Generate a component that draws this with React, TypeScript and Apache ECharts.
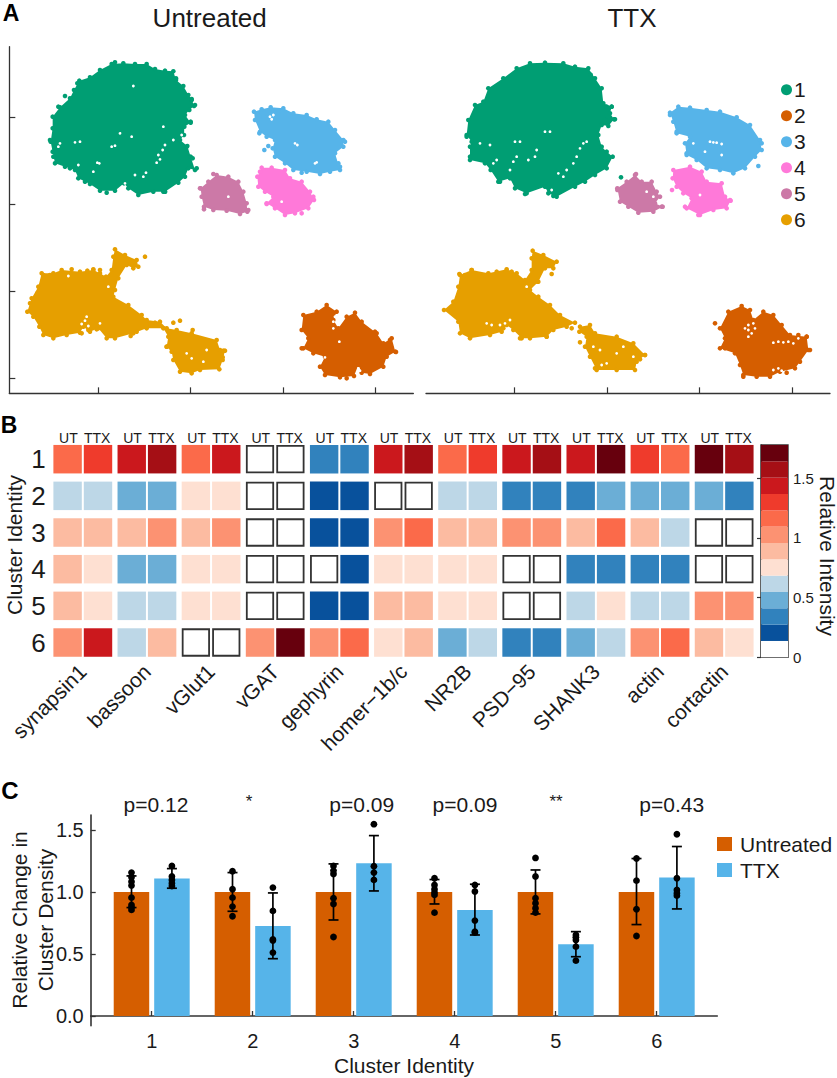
import React, { useEffect, useRef } from "react";
import * as echarts from "echarts";

// ---------- Panel A: embedding clusters (arbitrary, unlabelled embedding units) ----------
const clusterNames = ["1", "2", "3", "4", "5", "6"];
const clusterColors = ["#009e73", "#d55e00", "#56b4e9", "#ff79d9", "#cc79a7", "#e69f00"];
const ticksUntreatedX = [295, 571, 849, 1127];
const ticksTtxX = [284, 561, 838, 1116];
const ticksEmbedY = [351, 613, 873, 1134];

const u1 = [[370,190],[405,192],[440,192],[465,207],[495,212],[520,214],[528,240],[550,258],[565,285],[575,297],[582,318],[568,330],[555,345],[572,368],[553,380],[552,405],[540,420],[562,438],[572,470],[585,510],[565,505],[555,530],[535,548],[495,575],[460,575],[415,585],[385,565],[372,550],[345,572],[300,572],[270,552],[235,535],[225,510],[195,500],[165,490],[158,455],[152,425],[158,385],[158,350],[180,322],[210,295],[222,270],[238,242],[270,232],[300,210],[335,192]];
const u2 = [[980,915],[1010,935],[1000,960],[1015,985],[1040,950],[1065,938],[1085,965],[1130,1000],[1150,1030],[1175,1015],[1186,1055],[1160,1070],[1150,1100],[1110,1122],[1085,1118],[1075,1095],[1062,1128],[1020,1132],[975,1125],[960,1100],[975,1070],[940,1060],[910,1045],[925,1015],[905,990],[910,945],[950,935]];
const u3 = [[762,335],[785,328],[812,322],[850,325],[880,340],[920,345],[950,358],[985,365],[1005,390],[1030,420],[1030,440],[1005,460],[1020,510],[990,515],[960,522],[920,515],[880,510],[855,490],[825,470],[818,445],[825,420],[800,410],[780,395],[765,360]];
const u4 = [[785,503],[815,503],[855,510],[870,535],[905,545],[930,575],[942,600],[925,625],[885,640],[855,645],[825,625],[800,610],[820,590],[795,575],[775,560],[772,530]];
const u5 = [[650,525],[685,530],[715,545],[730,575],[740,610],[742,635],[720,642],[680,632],[640,630],[612,620],[605,590],[602,565],[625,545]];
const u6 = [[345,748],[375,765],[410,780],[415,800],[400,805],[380,795],[355,835],[345,870],[340,890],[385,915],[425,945],[440,960],[480,965],[500,985],[530,990],[575,1000],[650,1020],[660,1050],[675,1052],[668,1080],[658,1108],[600,1110],[575,1120],[540,1115],[520,1080],[515,1055],[500,1040],[505,1010],[490,985],[440,985],[400,1000],[345,1015],[320,1015],[295,985],[270,995],[250,980],[240,998],[200,1005],[160,1015],[130,1005],[118,980],[100,950],[82,935],[95,895],[115,860],[125,820],[160,820],[185,810],[240,815],[280,810],[300,820],[318,830],[335,810],[340,770]];
const t1 = [[375,188],[430,190],[465,200],[505,205],[525,235],[545,265],[550,310],[575,320],[570,340],[582,358],[565,378],[545,375],[535,405],[545,440],[560,455],[578,470],[560,505],[525,525],[495,545],[465,560],[410,590],[385,580],[375,560],[320,580],[285,565],[270,535],[235,545],[212,510],[195,490],[150,480],[150,440],[155,425],[140,405],[145,360],[165,315],[190,305],[205,265],[250,235],[290,205],[330,190]];
const t2 = [[965,918],[990,930],[1000,960],[1030,935],[1060,945],[1085,975],[1110,1005],[1160,1010],[1165,1050],[1140,1085],[1125,1105],[1080,1115],[1050,1130],[1010,1130],[970,1125],[960,1095],[945,1060],[900,1045],[915,1015],[900,985],[925,935]];
const t3 = [[750,338],[775,320],[810,323],[860,330],[900,335],[950,352],[990,375],[1020,420],[1025,450],[1005,470],[975,505],[940,520],[900,510],[860,505],[830,480],[800,465],[795,430],[810,410],[770,400],[760,365]];
const t4 = [[760,510],[810,500],[845,515],[860,545],[905,550],[915,590],[932,602],[920,625],[880,630],[840,645],[800,625],[815,595],[790,580],[770,560],[758,535]];
const t5 = [[645,525],[665,545],[695,545],[710,575],[720,590],[705,610],[728,620],[700,635],[655,638],[625,620],[600,605],[592,565],[620,545]];
const t6 = [[338,752],[370,765],[410,785],[400,805],[375,805],[355,845],[330,870],[355,890],[390,915],[420,945],[465,968],[440,980],[400,990],[380,1010],[330,1015],[305,1015],[280,990],[260,975],[245,995],[210,1005],[150,1015],[120,1000],[115,965],[72,930],[100,905],[115,860],[120,825],[155,810],[205,820],[260,808],[290,820],[315,840],[335,810],[335,775]];
const t6b = [[480,980],[510,975],[525,1000],[590,1010],[640,1030],[675,1065],[650,1085],[645,1110],[590,1110],[530,1110],[510,1070],[495,1040],[500,1010],[478,995]];

const untreatedOutlines = [[u1], [u2], [u3], [u4], [u5], [u6]];
const ttxOutlines = [[t1], [t2], [t3], [t4], [t5], [t6, t6b]];
const untreatedStrays = [
  [[528,235],[575,300],[560,440],[590,505],[578,475],[495,575],[320,578],[210,505],[195,288],[175,320],[150,420],[232,250],[345,187],[572,365],[585,315],[255,545],[490,575],[160,470]],
  [[1170,1020],[1188,1056],[1165,1050],[1040,1135],[925,950],[905,1045],[1125,995]],
  [[793,450],[805,438],[778,400],[790,350],[772,345],[1020,500],[905,518],[1035,425],[1015,490],[835,335]],
  [[780,515],[940,590],[905,640],[825,620],[800,612]],
  [[600,565],[640,522],[612,628],[745,630]],
  [[435,770],[540,962],[520,968],[668,1072],[150,825],[130,825],[215,808],[262,812],[280,808],[112,880],[90,910],[300,810],[265,990],[290,988],[245,1000],[410,995],[440,975],[465,968],[578,990],[670,1052],[500,1040],[392,1008]],
];
const ttxStrays = [
  [[603,532],[512,224],[575,320],[560,320],[585,358],[150,470],[140,410],[240,545],[315,582],[400,588],[555,360]],
  [[885,970],[1135,1005],[1160,1010],[1170,1050],[1100,1118],[970,1130],[915,1045]],
  [[1015,498],[750,345],[770,395],[800,460],[1025,430]],
  [[756,570],[930,600],[795,620],[835,645]],
  [[648,522],[725,620],[592,570]],
  [[480,1027],[395,822],[352,845],[155,810],[118,822],[135,825],[185,830],[230,815],[275,815],[300,1015],[380,1010],[250,985],[455,985],[420,960],[675,1065],[660,1078],[525,1105]],
];
const untreatedGaps = [[292,488],[298,490],[345,437],[335,440],[225,427],[240,425],[180,430],[175,440],[475,465],[488,450],[470,488],[480,478],[495,435],[430,530],[438,518],[405,525],[280,515],[545,405],[400,258],[395,410],[360,400],[490,380],[520,420],[235,495],[375,550],[810,350],[820,345],[815,358],[885,430],[892,435],[950,487],[945,490],[1000,965],[1000,985],[1005,950],[1018,1025],[1075,1105],[1080,1112],[975,1072],[260,950],[255,962],[265,978],[245,972],[300,970],[205,828],[325,860],[620,1050],[560,1060],[575,1075],[610,1085],[845,605],[685,590]];
const ttxGaps = [[280,485],[290,470],[270,510],[300,425],[285,425],[460,490],[470,470],[480,445],[490,430],[500,425],[350,450],[345,470],[325,480],[210,435],[180,430],[430,530],[415,520],[440,510],[395,570],[375,395],[390,395],[230,480],[220,490],[820,430],[880,427],[870,425],[890,428],[905,432],[855,455],[905,465],[975,985],[985,990],[995,1000],[1005,985],[985,975],[1000,970],[985,1010],[1060,1028],[1075,1025],[1090,1027],[1105,1025],[1120,1030],[1135,1015],[1075,1105],[1085,1112],[1060,1110],[270,960],[255,970],[240,975],[215,975],[200,970],[320,860],[540,1050],[520,1040],[590,1060],[560,1090],[610,1040],[640,1070],[545,1095],[680,575],[700,590],[840,585]];

// ---------- Panel B: heat map ----------
const markers = ["synapsin1", "bassoon", "vGlut1", "vGAT", "gephyrin", "homer\u22121b/c", "NR2B", "PSD\u221295", "SHANK3", "actin", "cortactin"];
const treatments = ["UT", "TTX"];
const intensityUT = [
  [1.15,.6,.9,.9,.9,1.0],[1.45,.5,.9,.5,.6,.6],[1.15,.75,.9,.75,.75,0],[0,0,0,0,0,1.0],[.35,.2,.2,0,.2,1.0],
  [1.45,0,1.0,.75,.9,.75],[1.15,.6,.9,.75,.75,.5],[1.45,.35,1.0,0,0,.35],[1.45,.35,.9,.35,.6,.5],[1.3,.5,.9,.35,.6,1.0],[1.7,.5,0,0,1.0,.9],
];
const intensityTTX = [
  [1.3,.6,.9,.75,.75,1.45],[1.6,.5,1.0,.5,.6,.9],[1.45,.75,1.0,.75,.75,0],[0,0,0,0,0,1.7],[.35,.2,.2,.2,.2,1.15],
  [1.6,0,1.15,.75,.9,.9],[1.3,.6,.9,.75,.75,.6],[1.6,.35,1.0,0,0,.35],[1.7,.5,1.15,.35,.75,.6],[1.15,.5,.6,.35,.6,1.15],[1.6,.35,0,0,1.0,.75],
];
const binPalette = ["#ffffff","#08519c","#3182bd","#6baed6","#bdd7e7","#fee0d2","#fcbba1","#fc9272","#fb6a4a","#ef3b2c","#cb181d","#a50f15","#67000d"];
const colorbarMax = 1.778;
const colorbarTicks = [0, 0.5, 1, 1.5];

// ---------- Panel C: bars ----------
const barClusters = [1, 2, 3, 4, 5, 6];
const barUntreated = [1, 1, 1, 1, 1, 1];
const barTTX = [1.108, 0.726, 1.231, 0.855, 0.578, 1.116];
const errUntreated = [[0.874,1.129],[0.844,1.156],[0.774,1.226],[0.903,1.10],[0.823,1.177],[0.737,1.269]];
const errTTX = [[1.03,1.188],[0.462,0.992],[1.008,1.454],[0.653,1.062],[0.478,0.68],[0.863,1.366]];
const dotsUntreated = [
  [1.156,1.118,1.083,1.051,0.954,0.895,0.876,0.855],[1.167,1.022,0.954,0.882,0.804],[1.21,1.172,1.145,0.949,0.903,0.637],
  [1.11,1.056,1.022,0.995,0.976,0.833],[1.274,1.124,0.949,0.909,0.868,0.833],[1.269,1.091,0.86,0.645],
];
const dotsTTX = [
  [1.21,1.124,1.097,1.07,1.048],[1.035,0.847,0.618,0.608,0.511],[1.546,1.207,1.156,1.097],
  [1.056,1.003,0.769,0.68,0.672],[0.653,0.634,0.613,0.559,0.446],[1.465,1.11,1.016,0.989,0.97],
];
const pLabels = ["p=0.12", "*", "p=0.09", "p=0.09", "**", "p=0.43"];
const barTicksY = [0, 0.5, 1, 1.5];

const FONT = "'Liberation Sans', Arial, sans-serif";
const INK = "#1a1a1a";
const AXIS = "#333333";
const UT_COLOR = "#d55e00";
const TTX_COLOR = "#56b4e9";

function embedSeries(outlines: number[][][][], strays: number[][][], gaps: number[][], axisIdx: number) {
  const out: any[] = [];
  outlines.forEach((polys, c) => {
    polys.forEach((poly) => {
      out.push({
        type: "custom", coordinateSystem: "cartesian2d", xAxisIndex: axisIdx, yAxisIndex: axisIdx,
        silent: true, data: poly, encode: { x: 0, y: 1 }, z: 2,
        renderItem: (p: any, api: any) =>
          p.dataIndex === 0
            ? { type: "polygon", shape: { points: poly.map((q) => api.coord(q)) }, style: { fill: clusterColors[c] } }
            : null,
      });
    });
    out.push({
      type: "scatter", name: clusterNames[c], xAxisIndex: axisIdx, yAxisIndex: axisIdx, z: 3,
      symbolSize: 4.6, itemStyle: { color: clusterColors[c], opacity: 1 },
      data: [...polys.flat(), ...strays[c]],
    });
  });
  out.push({
    type: "scatter", xAxisIndex: axisIdx, yAxisIndex: axisIdx, z: 4, silent: true,
    symbolSize: 2.8, itemStyle: { color: "#ffffff", opacity: 1 }, data: gaps,
  });
  return out;
}

function heatCell(p: any, api: any) {
  const g = api.value(0), r = api.value(1), t = api.value(2), v = api.value(3);
  const c = api.coord([g, r]);
  const band = api.size([1, 1]);
  const w = band[0] * 0.443, h = band[1] * 0.777;
  const cx = c[0] + (t === 0 ? -0.237 : 0.237) * band[0];
  if (v === 0) {
    return {
      type: "rect",
      shape: { x: cx - w / 2 + 1, y: c[1] - h / 2 + 1, width: w - 2, height: h - 2 },
      style: { fill: "#fff", stroke: AXIS, lineWidth: 1.8 },
    };
  }
  const level = Math.min(12, Math.floor(v / (colorbarMax / 13)));
  return { type: "rect", shape: { x: cx - w / 2, y: c[1] - h / 2, width: w, height: h }, style: { fill: binPalette[level] } };
}

function errorBar(offset: number) {
  return (p: any, api: any) => {
    const x = api.value(0) + offset;
    const lo = api.coord([x, api.value(1)]);
    const hi = api.coord([x, api.value(2)]);
    const line = { stroke: "#000", lineWidth: 1.7 };
    const cap = 5;
    return {
      type: "group",
      children: [
        { type: "line", shape: { x1: lo[0], y1: lo[1], x2: hi[0], y2: hi[1] }, style: line },
        { type: "line", shape: { x1: lo[0] - cap, y1: lo[1], x2: lo[0] + cap, y2: lo[1] }, style: line },
        { type: "line", shape: { x1: hi[0] - cap, y1: hi[1], x2: hi[0] + cap, y2: hi[1] }, style: line },
      ],
    };
  };
}

const txt = (text: string, x: number, y: number, fontSize: number, extra: any = {}, rotation = 0) => ({
  type: "text", x, y, rotation, silent: true,
  style: { text, fontSize, fontFamily: FONT, fill: INK, align: "center", verticalAlign: "middle", ...extra },
});

export default function App() {
  const ref = useRef<HTMLDivElement>(null);
  useEffect(() => {
    const chart = echarts.init(ref.current!, undefined, { renderer: "svg" });
    const embedAxisLine = { show: true, lineStyle: { color: AXIS, width: 1.3 } };
    const embedTick = (vals: number[]) => ({ show: true, inside: true, length: 6, customValues: vals, lineStyle: { color: AXIS, width: 1.2 } });
    const heatData: number[][] = [];
    markers.forEach((_, g) => {
      intensityUT[g].forEach((v, r) => heatData.push([g, r, 0, v]));
      intensityTTX[g].forEach((v, r) => heatData.push([g, r, 1, v]));
    });
    const topData: number[][] = [];
    markers.forEach((_, g) => treatments.forEach((__, t) => topData.push([g, 0, t])));
    const binH = colorbarMax / 13;

    const option: any = {
      animation: false,
      backgroundColor: "#ffffff",
      textStyle: { fontFamily: FONT, color: INK },
      legend: [
        {
          data: clusterNames, orient: "vertical", left: 781, top: 78, icon: "circle", itemWidth: 11, itemHeight: 11, itemGap: 2.5,
          selectedMode: false, padding: 0, textStyle: { fontSize: 21, color: INK, fontFamily: FONT, padding: [0, 0, 0, -3], lineHeight: 23.5 },
        },
        {
          data: ["Untreated", "TTX"], orient: "vertical", left: 717, top: 832, icon: "rect", itemWidth: 15, itemHeight: 14, itemGap: 2,
          selectedMode: false, padding: 0, textStyle: { fontSize: 21, color: INK, fontFamily: FONT, padding: [0, 0, 0, 3], lineHeight: 24 },
        },
      ],
      grid: [
        { left: 9.33, top: 46.67, width: 404, height: 346.67 },
        { left: 426, top: 46.67, width: 404, height: 346.67 },
        { left: 50.73, top: 440.85, width: 705.5, height: 220 },
        { left: 761, top: 445, width: 27, height: 212.3, show: true, borderColor: AXIS, borderWidth: 1.4, backgroundColor: "#fff" },
        { left: 90.7, top: 815, width: 626.6, height: 210.7 },
      ],
      xAxis: [
        { gridIndex: 0, type: "value", min: 28, max: 1240, axisLine: embedAxisLine, axisTick: embedTick(ticksUntreatedX), axisLabel: { show: false }, splitLine: { show: false } },
        { gridIndex: 1, type: "value", min: 18, max: 1230, axisLine: embedAxisLine, axisTick: embedTick(ticksTtxX), axisLabel: { show: false }, splitLine: { show: false } },
        {
          gridIndex: 2, type: "category", data: markers, axisLine: { show: false }, axisTick: { show: false }, splitLine: { show: false },
          axisLabel: { rotate: 45, fontSize: 21, color: INK, fontFamily: FONT, margin: 7, interval: 0 },
        },
        { gridIndex: 3, type: "value", min: 0, max: 1, show: false },
        {
          gridIndex: 4, type: "value", min: 0.396, max: 6.6, splitLine: { show: false },
          axisLine: { show: true, lineStyle: { color: AXIS, width: 1.6 } },
          axisTick: { show: true, inside: true, length: 5, customValues: barClusters, lineStyle: { color: AXIS, width: 1.3 } },
          axisLabel: { customValues: barClusters, fontSize: 20, color: INK, fontFamily: FONT, margin: 5, formatter: (v: number) => String(v) },
        },
      ],
      yAxis: [
        { gridIndex: 0, type: "value", inverse: true, min: 140, max: 1180, axisLine: embedAxisLine, axisTick: embedTick(ticksEmbedY), axisLabel: { show: false }, splitLine: { show: false } },
        { gridIndex: 1, type: "value", inverse: true, min: 140, max: 1180, axisLine: { show: false }, axisTick: { show: false }, axisLabel: { show: false }, splitLine: { show: false } },
        {
          gridIndex: 2, type: "category", inverse: true, data: clusterNames, axisLine: { show: false }, axisTick: { show: false }, splitLine: { show: false },
          axisLabel: { fontSize: 26, color: INK, fontFamily: FONT, margin: 5 },
        },
        {
          gridIndex: 3, type: "value", position: "right", min: 0, max: colorbarMax, splitLine: { show: false },
          axisLine: { show: true, lineStyle: { color: AXIS, width: 1.4 } },
          axisTick: { show: true, inside: true, length: 4, customValues: colorbarTicks, lineStyle: { color: AXIS, width: 1.2 } },
          axisLabel: { customValues: colorbarTicks, fontSize: 15, color: INK, fontFamily: FONT, margin: 5, formatter: (v: number) => String(v) },
        },
        {
          gridIndex: 4, type: "value", min: -0.078, max: 1.62, splitLine: { show: false },
          axisLine: { show: true, lineStyle: { color: AXIS, width: 1.6 } },
          axisTick: { show: true, inside: true, length: 5, customValues: barTicksY, lineStyle: { color: AXIS, width: 1.3 } },
          axisLabel: { customValues: barTicksY, fontSize: 20, color: INK, fontFamily: FONT, margin: 7, formatter: (v: number) => v.toFixed(1) },
        },
      ],
      series: [
        ...embedSeries(untreatedOutlines, untreatedStrays, untreatedGaps, 0),
        ...embedSeries(ttxOutlines, ttxStrays, ttxGaps, 1),
        {
          type: "custom", coordinateSystem: "cartesian2d", xAxisIndex: 2, yAxisIndex: 2, silent: true,
          data: heatData, encode: { x: 0, y: 1 }, renderItem: heatCell,
        },
        {
          type: "custom", coordinateSystem: "cartesian2d", xAxisIndex: 2, yAxisIndex: 2, silent: true,
          data: topData, encode: { x: 0, y: 1 },
          renderItem: (p: any, api: any) => {
            const c = api.coord([api.value(0), api.value(1)]);
            const band = api.size([1, 1]);
            const t = api.value(2);
            return {
              type: "text",
              style: {
                text: treatments[t], x: c[0] + (t === 0 ? -0.225 : 0.225) * band[0], y: c[1] - 21.5,
                align: "center", verticalAlign: "middle", fontSize: 14, fontFamily: FONT, fill: INK,
              },
            };
          },
        },
        {
          type: "custom", coordinateSystem: "cartesian2d", xAxisIndex: 3, yAxisIndex: 3, silent: true, z: 1,
          data: binPalette.map((_, i) => [i * binH, (i + 1) * binH]), encode: { y: [0, 1] },
          renderItem: (p: any, api: any) => {
            const a = api.coord([0, api.value(1)]);
            const b = api.coord([1, api.value(0)]);
            return { type: "rect", shape: { x: a[0], y: a[1], width: b[0] - a[0], height: b[1] - a[1] }, style: { fill: binPalette[p.dataIndex] } };
          },
        },
        {
          type: "bar", name: "Untreated", xAxisIndex: 4, yAxisIndex: 4, barWidth: 35.5, barGap: "14%", itemStyle: { color: UT_COLOR },
          data: barClusters.map((c, i) => [c, barUntreated[i]]),
        },
        {
          type: "bar", name: "TTX", xAxisIndex: 4, yAxisIndex: 4, barWidth: 35.5, barGap: "14%", itemStyle: { color: TTX_COLOR },
          data: barClusters.map((c, i) => [c, barTTX[i]]),
        },
        {
          type: "custom", coordinateSystem: "cartesian2d", xAxisIndex: 4, yAxisIndex: 4, silent: true, z: 5,
          data: barClusters.map((c, i) => [c, errUntreated[i][0], errUntreated[i][1]]), encode: { x: 0, y: [1, 2] }, renderItem: errorBar(-0.2),
        },
        {
          type: "custom", coordinateSystem: "cartesian2d", xAxisIndex: 4, yAxisIndex: 4, silent: true, z: 5,
          data: barClusters.map((c, i) => [c, errTTX[i][0], errTTX[i][1]]), encode: { x: 0, y: [1, 2] }, renderItem: errorBar(0.2),
        },
        {
          type: "scatter", xAxisIndex: 4, yAxisIndex: 4, symbolSize: 6.8, z: 6, silent: true, itemStyle: { color: "#000", opacity: 1 },
          data: dotsUntreated.flatMap((vals, i) => vals.map((v) => [barClusters[i] - 0.2, v])),
        },
        {
          type: "scatter", xAxisIndex: 4, yAxisIndex: 4, symbolSize: 6.8, z: 6, silent: true, itemStyle: { color: "#000", opacity: 1 },
          data: dotsTTX.flatMap((vals, i) => vals.map((v) => [barClusters[i] + 0.2, v])),
        },
      ],
      graphic: [
        txt("A", 11, 12.5, 23, { fontWeight: "bold", fill: "#000" }),
        txt("B", 9, 425, 23, { fontWeight: "bold", fill: "#000" }),
        txt("C", 10, 790.5, 24, { fontWeight: "bold", fill: "#000" }),
        txt("Untreated", 209.7, 17.5, 26),
        txt("TTX", 632, 17.5, 26),
        txt("Cluster Identity", 14, 545, 21, {}, Math.PI / 2),
        txt("Relative Intensity", 827, 556, 21, {}, -Math.PI / 2),
        txt("Relative Change in", 19, 920, 21, {}, Math.PI / 2),
        txt("Cluster Density", 45, 920, 21, {}, Math.PI / 2),
        txt("Cluster Identity", 404, 1065, 21),
        ...pLabels.map((s, i) => txt(s, [156, 249, 361.7, 465, 556, 671.7][i], s.startsWith("p") ? 804 : 801, s.startsWith("p") ? 21 : 17)),
      ],
    };
    chart.setOption(option);
    return () => chart.dispose();
  }, []);
  return <div ref={ref} style={{ position: "absolute", left: 0, top: 0, width: 837, height: 1078 }} />;
}
